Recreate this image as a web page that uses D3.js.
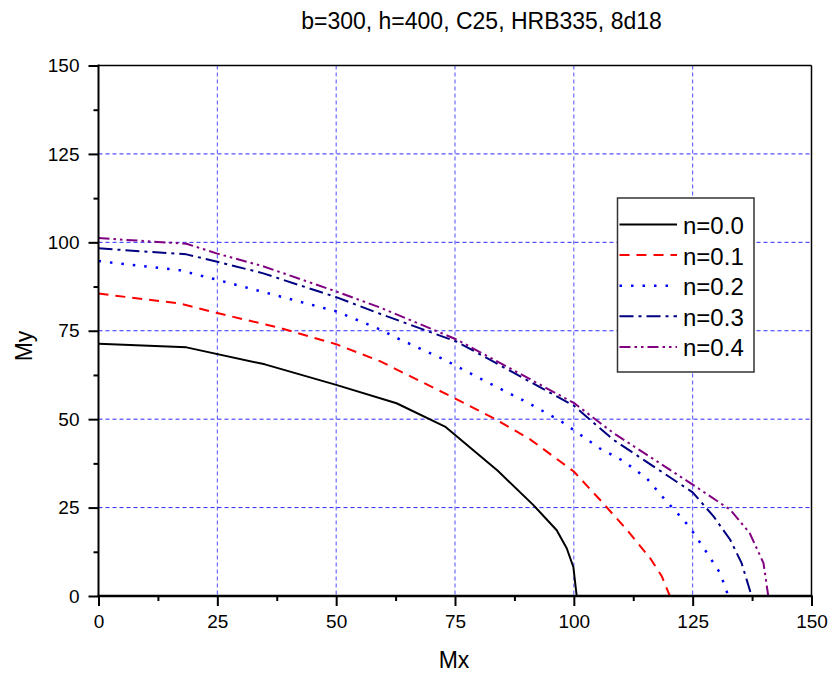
<!DOCTYPE html>
<html>
<head>
<meta charset="utf-8">
<script src="https://cdn.jsdelivr.net/npm/d3@7"></script>
<style>
  html, body { margin: 0; padding: 0; background: #fff; }
  svg { display: block; }
  text { font-family: "Liberation Sans", Arial, sans-serif; fill: #000; }
</style>
</head>
<body>
<svg id="chart" width="836" height="673"></svg>
<script>
// ---- data ----
const titleText = "b=300, h=400, C25, HRB335, 8d18";
const xLabel = "Mx";
const yLabel = "My";
const seriesNames = ["n=0.0", "n=0.1", "n=0.2", "n=0.3", "n=0.4"];
const majorTicks = [0, 25, 50, 75, 100, 125, 150];
const minorTicks = [12.5, 37.5, 62.5, 87.5, 112.5, 137.5];

const n00 = [[0, 71.3], [18.5, 70.3], [35, 65.5], [50, 59.7], [62.7, 54.5], [72.9, 47.9],
             [84, 35.4], [91.5, 25.7], [96.4, 18.6], [98.5, 13.5], [99.9, 8.2], [100.6, 0]];
const n01 = [[0, 85.5], [17.1, 82.7], [25, 80.0], [38.2, 75.8], [50, 71.2], [59.2, 66.4],
             [75.4, 55.6], [83.1, 50.3], [90.8, 44.3], [100, 35.2], [105.5, 27.2],
             [111.1, 18.8], [116, 10.8], [118.5, 5.6], [120.2, 0]];
const n02 = [[0, 94.7], [17.1, 92.1], [25, 89.4], [50, 80.5], [59.2, 75.4], [62.7, 73.0],
             [72.2, 67.2], [81, 61.0], [90.1, 54.8], [97.1, 49.6], [100, 46.9], [105.5, 41.7],
             [110.4, 38.2], [115.4, 33.2], [119.2, 27.2], [123.1, 21.5], [125, 18.2],
             [128, 12.2], [130.8, 6.4], [132.5, 0]];
const n03 = [[0, 98.3], [18.5, 96.6], [25, 94.5], [34.5, 91.3], [50, 84.5], [59.2, 79.8],
             [75.4, 71.9], [100, 53.8], [108.3, 44.2], [125, 29.3], [129.4, 22.5],
             [132.9, 15.9], [135.3, 9.3], [137.4, 0]];
const n04 = [[0, 101.2], [18.5, 99.6], [25, 96.8], [34.5, 93.3], [50, 86.1], [59.2, 81.6],
             [75.4, 72.5], [100, 54.6], [108.3, 46.1], [125, 31.5], [132.9, 24.4],
             [137, 17.8], [139.9, 9.3], [140.9, 0]];
const seriesData = [n00, n01, n02, n03, n04];

// ---- styles ----
const styles = [
  { color: "#000000", dash: null, width: 2 },
  { color: "#ff0000", dash: "10,7", width: 2 },
  { color: "#0000ff", dash: "2.5,9", width: 2.5 },
  { color: "#000080", dash: "14,5,3,5", width: 2 },
  { color: "#800080", dash: "11,4,2.5,4,2.5,4", width: 2 }
];

const svg = d3.select("#chart");
const pLeft = 98.5, pRight = 811.5, pTop = 65.5, pBottom = 596;

const x = d3.scaleLinear().domain([0, 150]).range([pLeft, pRight]);
const y = d3.scaleLinear().domain([0, 150]).range([pBottom, pTop]);

// grid lines
const grid = svg.append("g");
majorTicks.filter(v => v > 0 && v < 150).forEach(v => {
  grid.append("line").attr("x1", x(v)).attr("x2", x(v)).attr("y1", pTop).attr("y2", pBottom)
    .attr("stroke", "#4d4dff").attr("stroke-width", 1).attr("stroke-dasharray", "4,3");
  grid.append("line").attr("x1", pLeft).attr("x2", pRight).attr("y1", y(v)).attr("y2", y(v))
    .attr("stroke", "#2a2aff").attr("stroke-width", 1).attr("stroke-dasharray", "4,3");
});

// curves
const line = d3.line().x(d => x(d[0])).y(d => y(d[1]));
seriesData.forEach((data, i) => {
  const s = styles[i];
  svg.append("path").datum(data).attr("d", line)
    .attr("fill", "none").attr("stroke", s.color).attr("stroke-width", s.width)
    .attr("stroke-dasharray", s.dash).attr("stroke-linejoin", "round");
});

// frame (top & right)
svg.append("line").attr("x1", pLeft).attr("x2", pRight).attr("y1", pTop).attr("y2", pTop)
  .attr("stroke", "#000").attr("stroke-width", 1.5);
svg.append("line").attr("x1", pRight).attr("x2", pRight).attr("y1", pTop).attr("y2", pBottom)
  .attr("stroke", "#000").attr("stroke-width", 1.5);

// axes
function styleAxis(g) {
  g.select(".domain").remove();
  g.selectAll(".tick line").attr("stroke", "#000").attr("stroke-width", 2);
  g.selectAll(".tick text").style("font-size", "19px").style("font-family", '"Liberation Sans", Arial, sans-serif');
}
const xAxis = svg.append("g").attr("transform", `translate(0,${pBottom})`)
  .call(d3.axisBottom(x).tickValues(majorTicks).tickSize(10).tickPadding(9).tickFormat(d3.format("d")));
styleAxis(xAxis);
const xMinor = svg.append("g").attr("transform", `translate(0,${pBottom})`)
  .call(d3.axisBottom(x).tickValues(minorTicks).tickSize(5).tickFormat(""));
styleAxis(xMinor);

const yAxis = svg.append("g").attr("transform", `translate(${pLeft},0)`)
  .call(d3.axisLeft(y).tickValues(majorTicks).tickSize(10).tickPadding(9).tickFormat(d3.format("d")));
styleAxis(yAxis);
const yMinor = svg.append("g").attr("transform", `translate(${pLeft},0)`)
  .call(d3.axisLeft(y).tickValues(minorTicks).tickSize(5).tickFormat(""));
styleAxis(yMinor);

svg.append("line").attr("x1", pLeft).attr("x2", pLeft).attr("y1", pTop - 1).attr("y2", pBottom + 1)
  .attr("stroke", "#000").attr("stroke-width", 2);
svg.append("line").attr("x1", pLeft - 1).attr("x2", pRight + 1).attr("y1", pBottom).attr("y2", pBottom)
  .attr("stroke", "#000").attr("stroke-width", 2.5);

// title and labels
svg.append("text").attr("x", 481.5).attr("y", 28.5).attr("text-anchor", "middle")
  .style("font-size", "23px").text(titleText);
svg.append("text").attr("x", 454).attr("y", 668).attr("text-anchor", "middle")
  .style("font-size", "23px").text(xLabel);
svg.append("text").attr("transform", "translate(32,346) rotate(-90)").attr("text-anchor", "middle")
  .style("font-size", "23px").text(yLabel);

// legend
const lg = svg.append("g");
lg.append("rect").attr("x", 617.5).attr("y", 198).attr("width", 136.5).attr("height", 174)
  .attr("fill", "#fff").attr("stroke", "#333").attr("stroke-width", 1.5);
seriesNames.forEach((name, i) => {
  const s = styles[i];
  const ly = 224.5 + i * 30.6;
  lg.append("line").attr("x1", 619.5).attr("x2", 677).attr("y1", ly).attr("y2", ly)
    .attr("stroke", s.color).attr("stroke-width", s.width).attr("stroke-dasharray", s.dash);
  lg.append("text").attr("x", 683).attr("y", ly + 9.5).style("font-size", "24px").text(name);
});
</script>
</body>
</html>
